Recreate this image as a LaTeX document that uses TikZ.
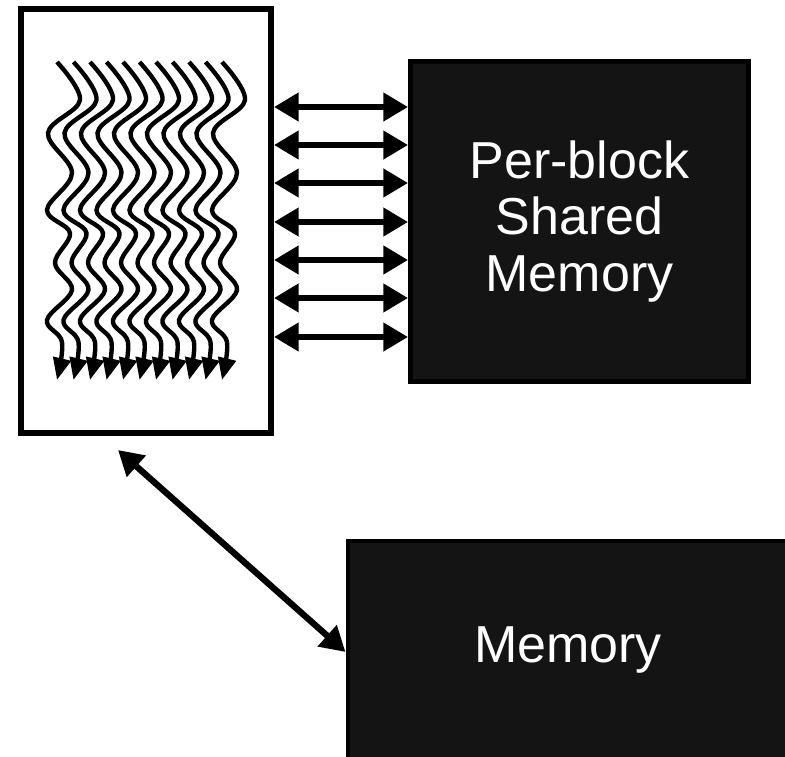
\documentclass[tikz,border=0pt]{standalone}
\usepackage{fontspec}
\setmainfont{Liberation Sans}
\usetikzlibrary{arrows.meta}
\definecolor{boxfill}{HTML}{141414}
\begin{document}
\begin{tikzpicture}[x=0.02cm,y=-0.02cm,
  blk/.style={draw, line width=3.4pt, inner sep=0pt},
  mem/.style={draw, fill=boxfill, line width=2.8pt, inner sep=0pt, text=white,
    font=\fontsize{29.6}{32.4}\selectfont, align=center},
  memlabel/.style={text=white, font=\fontsize{29.6}{32.4}\selectfont},
  link/.style={line width=3.6pt, {Triangle[length=14pt,width=15.5pt]}-{Triangle[length=14pt,width=15.5pt]}},
  thread/.style={line width=2.5pt, -{Triangle[length=12.5pt,width=10pt]}}]
\useasboundingbox (0,0) rectangle (785,757);
\clip (0,0) rectangle (785,757);
% boxes
\node[blk, minimum width=5cm, minimum height=8.48cm] (block) at (146,221) {};
\node[mem, minimum width=6.76cm, minimum height=6.4cm] (shared) at (579.5,221.5) {Per-block\\Shared\\Memory};
\node[mem, anchor=north west, minimum width=9cm, minimum height=5cm] (memory) at (345.5,538.5) {};
\node[memlabel] (memtext) at (568,650) {Memory};
% threads
\foreach \i in {0,...,10}
  \draw[thread, shift={(\i*16.5,0)}] plot[smooth, tension=0.6] coordinates
    {(57,62) (80,100) (48,133) (72,173) (47,210) (70,233) (55,263) (72,290) (47,320) (62,342) (57,380)};
% links
\foreach \y in {107,145,183,222,260,298,337}
  \draw[link] (block.east |- 0,\y) -- (shared.west |- 0,\y);
\coordinate (corner) at (118,450);
\draw[link] (corner) -- (memory.west |- 0,652);
\end{tikzpicture}
\end{document}
